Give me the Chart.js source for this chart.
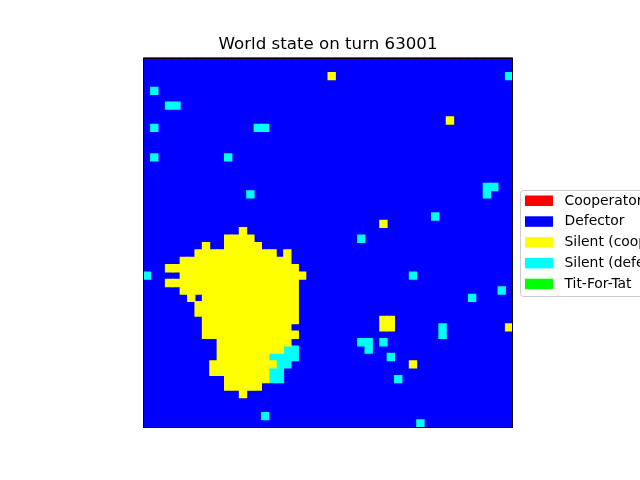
<!DOCTYPE html>
<html>
<head>
<meta charset="utf-8">
<script src="https://cdn.jsdelivr.net/npm/chart.js@4.4.0/dist/chart.umd.min.js"></script>
<style>
  html, body { margin: 0; padding: 0; background: #fff; }
  canvas { display: block; }
</style>
</head>
<body>
<canvas id="world" width="640" height="480"></canvas>
<script>
const gridSize = 50;
const stateLabels = ["Cooperator", "Defector", "Silent (cooperator)", "Silent (defector)", "Tit-For-Tat"];
const stateColors = ["#ff0000", "#0000ff", "#ffff00", "#00ffff", "#00ff00"];

// runs of cells as [row, firstCol, lastCol]; every cell not listed is a Defector
const cooperatorRuns = [];
const titForTatRuns = [];
const silentCoopRuns = [
    [2, 25, 25], [8, 41, 41], [22, 32, 32], [23, 13, 13], [24, 11, 14],
    [25, 8, 8], [25, 11, 15], [26, 7, 17], [26, 19, 19], [27, 5, 19],
    [28, 3, 20], [29, 5, 21], [30, 3, 20], [31, 5, 20], [32, 6, 6],
    [32, 8, 20], [33, 7, 20], [34, 7, 20], [35, 8, 20], [35, 32, 33],
    [36, 8, 19], [36, 32, 33], [36, 49, 49], [37, 8, 20], [38, 10, 19],
    [39, 10, 18], [40, 10, 16], [41, 9, 17], [41, 36, 36], [42, 9, 16],
    [43, 11, 16], [44, 11, 15], [45, 13, 13]
];
const silentDefRuns = [
    [2, 49, 49], [4, 1, 1], [6, 3, 4], [9, 1, 1], [9, 15, 16],
    [13, 1, 1], [13, 11, 11], [17, 46, 47], [18, 14, 14], [18, 46, 46],
    [21, 39, 39], [24, 29, 29], [29, 0, 0], [29, 36, 36], [31, 48, 48],
    [32, 44, 44], [36, 40, 40], [37, 40, 40], [38, 29, 30], [38, 32, 32],
    [39, 19, 20], [39, 30, 30], [40, 17, 20], [40, 33, 33], [41, 18, 19],
    [42, 17, 18], [43, 17, 18], [43, 34, 34], [48, 16, 16], [49, 37, 37]
];

// build the world grid
let grid = [];
for (let r = 0; r < gridSize; r++) {
    grid.push(new Array(gridSize).fill(1));
}
function paint(runs, state) {
    runs.forEach(([r, c0, c1]) => {
        for (let c = c0; c <= c1; c++) grid[r][c] = state;
    });
}
paint(cooperatorRuns, 0);
paint(silentCoopRuns, 2);
paint(silentDefRuns, 3);
paint(titForTatRuns, 4);

// each column becomes floating bars, one per vertical run of equal state
let cells = stateLabels.map(() => []);
for (let c = 0; c < gridSize; c++) {
    let start = 0;
    for (let r = 1; r <= gridSize; r++) {
        if (r === gridSize || grid[r][c] !== grid[start][c]) {
            cells[grid[start][c]].push({ x: c, y: [start, r] });
            start = r;
        }
    }
}

const columns = [];
for (let c = 0; c < gridSize; c++) columns.push(c);

// fill under the cells with the defector colour so column seams don't show
const underlay = {
    id: 'underlay',
    beforeDatasetsDraw(chart) {
        const a = chart.chartArea;
        const ctx = chart.ctx;
        ctx.save();
        ctx.fillStyle = stateColors[1];
        ctx.fillRect(a.left, a.top, a.right - a.left, a.bottom - a.top);
        ctx.restore();
    }
};

const frame = {
    id: 'frame',
    afterDatasetsDraw(chart) {
        const a = chart.chartArea;
        const ctx = chart.ctx;
        const l = Math.floor(a.left), t = Math.round(a.top);
        const r = Math.floor(a.right), b = Math.floor(a.bottom);
        ctx.save();
        ctx.strokeStyle = '#000';
        ctx.lineWidth = 1;
        ctx.strokeRect(l + 0.5, t + 0.5, r - l, b - t);
        ctx.restore();
    }
};

const legendBox = {
    id: 'legendBox',
    afterDraw(chart) {
        const a = chart.chartArea;
        const ctx = chart.ctx;
        const fontSize = 13.9;
        const rowGap = 20.8;
        const x = Math.round(a.right + 7) + 0.5;
        const y = 190.5;
        ctx.save();
        ctx.beginPath();
        ctx.roundRect(x, y, 200, 106, 3);
        ctx.fillStyle = 'rgba(255,255,255,0.8)';
        ctx.fill();
        ctx.strokeStyle = '#cccccc';
        ctx.lineWidth = 1;
        ctx.stroke();
        ctx.font = fontSize + 'px "DejaVu Sans"';
        ctx.textBaseline = 'middle';
        chart.data.datasets.forEach((ds, i) => {
            const cy = 201 + i * rowGap;
            ctx.fillStyle = ds.backgroundColor;
            ctx.fillRect(x + 4.5, cy - 5.5, 28, 10.5);
            ctx.fillStyle = '#000';
            ctx.fillText(ds.label, x + 44, cy);
        });
        ctx.restore();
    }
};

let world = new Chart(document.getElementById("world"), {
    type: 'bar',
    data: {
        labels: columns,
        datasets: stateLabels.map((label, i) => ({
            label: label,
            data: cells[i],
            backgroundColor: stateColors[i],
            order: i === 1 ? 1 : 0
        }))
    },
    options: {
        responsive: false,
        animation: false,
        devicePixelRatio: 1,
        datasets: {
            bar: {
                grouped: false,
                barPercentage: 1,
                categoryPercentage: 1,
                borderWidth: 0,
                inflateAmount: 0.5
            }
        },
        layout: {
            padding: { left: 143.2, right: 127.2, top: 34.2, bottom: 52.8 }
        },
        scales: {
            x: { display: false },
            y: { display: false, type: 'linear', reverse: true, min: 0, max: gridSize }
        },
        plugins: {
            legend: { display: false },
            tooltip: { enabled: false },
            title: {
                display: true,
                text: "World state on turn 63001",
                color: '#000',
                font: { family: 'DejaVu Sans', size: 16.67, weight: 'normal' },
                padding: { top: 0, bottom: 3.4 }
            }
        }
    },
    plugins: [underlay, frame, legendBox]
});
</script>
</body>
</html>
